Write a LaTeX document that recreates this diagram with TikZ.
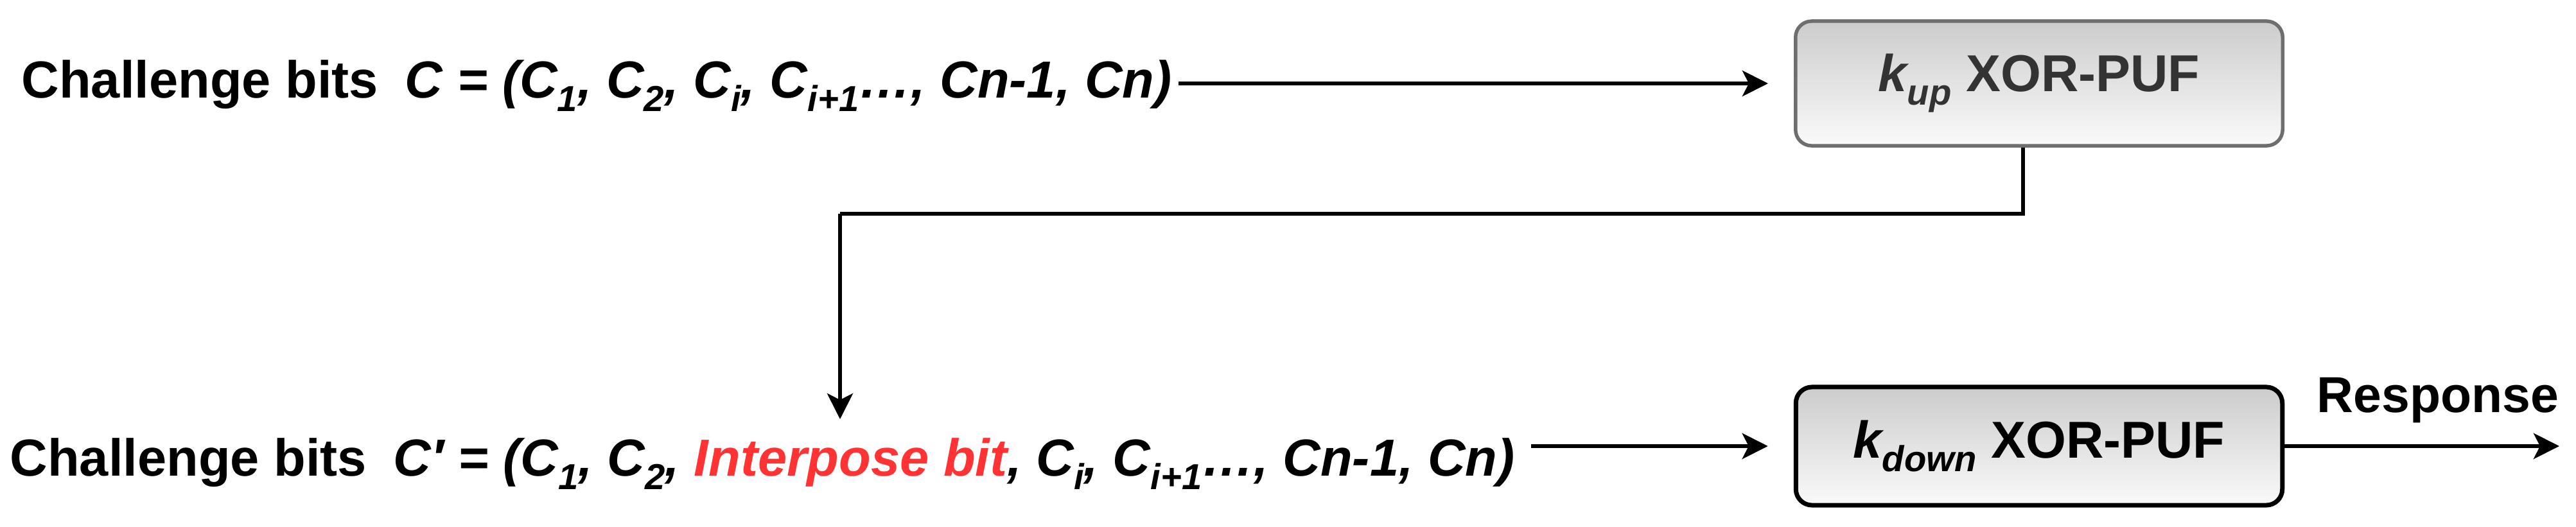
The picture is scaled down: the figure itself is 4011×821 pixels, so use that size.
\documentclass[tikz,border=0pt]{standalone}
\usepackage{fontspec}
\setmainfont{Liberation Sans}
\usetikzlibrary{arrows.meta}
\definecolor{ipred}{RGB}{255,51,51}
\definecolor{boxtop}{RGB}{204,204,204}
\definecolor{boxbot}{RGB}{250,250,250}
\definecolor{upgray}{RGB}{110,110,110}
\definecolor{uptext}{RGB}{51,51,51}
\newcommand{\lo}[1]{\raisebox{-0.26em}{\fontsize{16}{16}\selectfont\itshape #1}}
\tikzset{
  lbl/.style={inner sep=0pt, font=\fontsize{23.1}{28}\selectfont\bfseries, anchor=base west},
  pufbox/.style={rounded corners=0.25cm, top color=boxtop, bottom color=boxbot,
    font=\fontsize{23}{28}\selectfont\bfseries, inner sep=0pt},
  arr/.style={line width=0.062cm, -{Stealth[length=0.4cm,width=0.4cm,inset=0.1cm]}},
  wire/.style={line width=0.062cm}
}
\begin{document}
\begin{tikzpicture}[x=0.01cm,y=-0.01cm]
\useasboundingbox (0,0) rectangle (4011,821);
% text rows
\node[lbl] (t1) at (33,152) {Challenge bits\hspace{0.42cm}\itshape C = (C\lo{1}, C\lo{2}, C\lo{i}, C\lo{i+1}…, Cn-1, Cn)};
\node[lbl] (t2) at (15,741) {Challenge bits\hspace{0.42cm}\itshape C′ = (C\lo{1}, C\lo{2}, \textcolor{ipred}{Interpose bit}, C\lo{i}, C\lo{i+1}…, Cn-1, Cn)};
% boxes
\node[pufbox, draw=upgray, line width=0.055cm, minimum width=7.58cm, minimum height=1.94cm, text=uptext]
  (b1) at (3175,130) {\itshape k\lo{up}\upshape{} XOR-PUF};
\node[pufbox, draw=black, line width=0.07cm, minimum width=7.57cm, minimum height=1.84cm]
  (b2) at (3175,695) {\itshape k\lo{down}\upshape{} XOR-PUF};
\node[lbl, font=\fontsize{22.4}{27}\selectfont\bfseries] (resp) at (3607,642) {Response};
% helper coordinates
\coordinate (c1) at (3150,333);
\coordinate (c2) at (1308,333);
\coordinate (c3) at (1308,653);
\coordinate (rend) at (3985,695);
% connectors
\draw[arr] ([xshift=0.1cm]t1.east |- b1.west) -- ([xshift=-0.4cm]b1.west);
\draw[wire] (b1.south -| c1) -- (c1) -- (c2);
\draw[arr] (c2) -- (c3);
\draw[arr] ([xshift=0.25cm]t2.east |- b2.west) -- ([xshift=-0.4cm]b2.west);
\draw[arr] (b2.east) -- (rend);
\end{tikzpicture}
\end{document}
